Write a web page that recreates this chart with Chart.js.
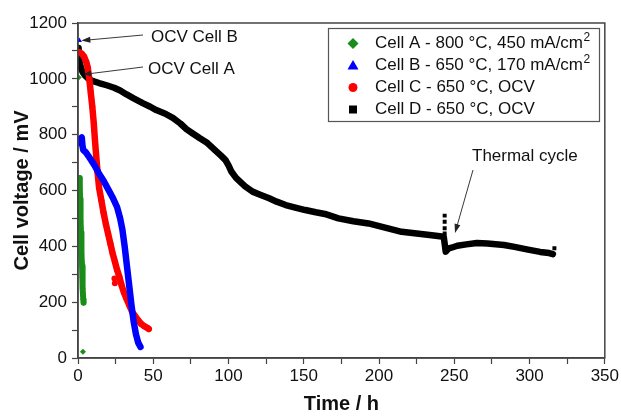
<!DOCTYPE html>
<html>
<head>
<meta charset="utf-8">
<script src="https://cdn.jsdelivr.net/npm/chart.js@4"></script>
<style>
  html, body { margin: 0; padding: 0; background: #fff; }
</style>
</head>
<body>
<canvas id="chart" width="621" height="416"></canvas>
<script>
// ------------------------------------------------------------
// Durability curves: time (h) vs cell voltage (mV)
// ------------------------------------------------------------
const xTickLabels = [0, 50, 100, 150, 200, 250, 300, 350]
const yTickLabels = [0, 200, 400, 600, 800, 1000, 1200]

// Cell A - 800 °C, 450 mA/cm2
const cellATime = [1.0, 1.2, 1.4, 1.6, 1.8, 2.0, 2.2, 2.4, 2.7, 2.9, 3.2, 3.5, 3.7]
const cellAVolt = [645, 610, 570, 530, 490, 450, 410, 370, 330, 290, 250, 210, 198]
const cellAExtraTime = [0.4, 3.3]
const cellAExtraVolt = [1005, 22]

// Cell B - 650 °C, 170 mA/cm2
const cellBTime = [0.8, 1.5, 2.5, 3.0, 3.5, 5, 8, 11, 14, 17, 20, 23, 26, 28, 29.5, 31, 32.5, 34, 35.5, 37, 38.5, 40, 41.5]
const cellBVolt = [770, 785, 790, 760, 745, 738, 715, 690, 660, 635, 605, 575, 540, 500, 460, 400, 330, 260, 190, 130, 85, 55, 40]
const cellBOcvTime = [0.9]
const cellBOcvVolt = [1137]

// Cell C - 650 °C, OCV
const cellCTime = [1, 2.5, 4, 5.5, 6.5, 7.5, 8.5, 9.5, 10.5, 11.2, 12, 13, 14, 15.5, 17, 18.5, 20, 21.5, 23, 24.5, 26, 27.5, 29, 30.5, 32, 34, 36, 38, 40, 42, 44, 46, 47]
const cellCVolt = [1095, 1090, 1080, 1060, 1040, 1000, 950, 900, 840, 785, 730, 665, 610, 565, 520, 480, 445, 410, 375, 345, 315, 290, 260, 235, 215, 190, 165, 150, 135, 122, 114, 108, 104]
const cellCExtraTime = [24.2, 24.5]
const cellCExtraVolt = [285, 268]

// Cell D - 650 °C, OCV (before and after the thermal cycle)
const cellDTime = [0.4, 0.7, 1, 2, 3, 4.6, 7, 10, 14, 19, 24, 28, 32, 37, 43, 48, 52, 58, 63, 68, 72, 76, 81, 86, 91, 95, 98, 100, 102, 105, 108, 111, 116, 121, 127, 132, 138, 145, 151, 158, 164, 173, 183, 193, 204, 215, 225, 235, 243,
  244.3, 246, 248, 252, 258, 265, 272, 283, 290, 299, 307, 313, 315.5]
const cellDVolt = [1110, 1085, 1060, 1040, 1025, 1012, 1000, 992, 985, 977, 968, 958, 945, 930, 913, 900, 888, 875, 860, 840, 820, 805, 787, 770, 745, 725, 709, 690, 667, 645, 630, 615, 596, 585, 572, 560, 548, 538, 530, 522, 516, 500, 490, 482, 467, 452, 446, 440, 434,
  381, 392, 395, 402, 407, 412, 410, 405, 398, 388, 380, 376, 372]
const cellDExtraTime = [243.6, 243.6, 243.6, 243.6, 316.5]
const cellDExtraVolt = [510, 488, 465, 446, 393]

const legendLabels = ['Cell A - 800 °C, 450 mA/cm', 'Cell B - 650 °C, 170 mA/cm', 'Cell C - 650 °C, OCV', 'Cell D - 650 °C, OCV']
const legendSup = ['2', '2', '', '']

const GREEN = '#1a8c1a'
const BLUE = '#0000ff'
const RED = '#ff0000'
const BLACK = '#000000'
const AXIS = '#444444'
const FONT = '"Liberation Sans", Arial, sans-serif'

const pts = (xs, ys) => xs.map((x, i) => ({ x, y: ys[i] }))

function curve(xs, ys, color, style, width, r) {
  return {
    data: pts(xs, ys),
    showLine: true,
    borderColor: color,
    backgroundColor: color,
    borderWidth: width,
    borderJoinStyle: 'round',
    borderCapStyle: 'round',
    pointStyle: style,
    pointRadius: r,
    pointBorderWidth: 0,
    pointHoverRadius: 0
  }
}

function markers(xs, ys, color, style, r) {
  return {
    data: pts(xs, ys),
    showLine: false,
    backgroundColor: color,
    borderColor: color,
    pointStyle: style,
    pointRadius: r,
    pointBorderWidth: 0,
    pointHoverRadius: 0
  }
}

// ------------------------------------------------------------
// Frame, boxed legend and arrows
// ------------------------------------------------------------
function arrow(ctx, x1, y1, x2, y2, head) {
  const a = Math.atan2(y2 - y1, x2 - x1)
  ctx.beginPath()
  ctx.moveTo(x1, y1)
  ctx.lineTo(x2 - Math.cos(a) * head * 0.8, y2 - Math.sin(a) * head * 0.8)
  ctx.stroke()
  ctx.beginPath()
  ctx.moveTo(x2, y2)
  ctx.lineTo(x2 - head * Math.cos(a) + 3 * Math.sin(a), y2 - head * Math.sin(a) - 3 * Math.cos(a))
  ctx.lineTo(x2 - head * Math.cos(a) - 3 * Math.sin(a), y2 - head * Math.sin(a) + 3 * Math.cos(a))
  ctx.closePath()
  ctx.fill()
}

function legendMarker(ctx, kind, x, y, color) {
  ctx.fillStyle = color
  ctx.beginPath()
  if (kind === 'diamond') {
    ctx.moveTo(x, y - 5.5); ctx.lineTo(x + 5.5, y); ctx.lineTo(x, y + 5.5); ctx.lineTo(x - 5.5, y)
  } else if (kind === 'triangle') {
    ctx.moveTo(x, y - 5.5); ctx.lineTo(x + 5.5, y + 4); ctx.lineTo(x - 5.5, y + 4)
  } else if (kind === 'circle') {
    ctx.arc(x, y, 4.5, 0, Math.PI * 2)
  } else {
    ctx.rect(x - 4, y - 4, 8, 8)
  }
  ctx.closePath()
  ctx.fill()
}

const decorations = {
  id: 'decorations',
  afterDraw(chart) {
    const { ctx, chartArea: ca, scales: { x, y } } = chart
    ctx.save()

    ctx.strokeStyle = AXIS
    ctx.lineWidth = 1.5
    ctx.strokeRect(ca.left, ca.top, ca.right - ca.left, ca.bottom - ca.top)

    // legend
    ctx.strokeStyle = '#555'
    ctx.lineWidth = 1.2
    ctx.strokeRect(328.5, 28.5, 271, 93)
    const kinds = ['diamond', 'triangle', 'circle', 'square']
    const colors = [GREEN, BLUE, RED, BLACK]
    ctx.textBaseline = 'middle'
    ctx.textAlign = 'left'
    legendLabels.forEach((label, i) => {
      const ly = 43.5 + i * 22
      legendMarker(ctx, kinds[i], 353, ly, colors[i])
      ctx.fillStyle = '#111'
      ctx.font = `17px ${FONT}`
      ctx.fillText(label, 375, ly)
      if (legendSup[i]) {
        const w = ctx.measureText(label).width
        ctx.font = `12px ${FONT}`
        ctx.fillText(legendSup[i], 375 + w + 0.5, ly - 6)
      }
    })

    // annotations
    ctx.fillStyle = '#111'
    ctx.font = `17px ${FONT}`
    ctx.fillText('OCV Cell B', 151, 37)
    ctx.fillText('OCV Cell A', 148, 69)
    ctx.fillText('Thermal cycle', 472, 156)

    ctx.strokeStyle = '#222'
    ctx.fillStyle = '#222'
    ctx.lineWidth = 0.9
    arrow(ctx, 143, 35, x.getPixelForValue(cellBOcvTime[0]) + 2, y.getPixelForValue(cellBOcvVolt[0]), 9)
    arrow(ctx, 143, 67, x.getPixelForValue(4), y.getPixelForValue(1016), 7)
    arrow(ctx, 473, 170, 455, 233, 9)

    ctx.restore()
  }
}

const tickFont = { family: FONT, size: 17 }
const titleFont = { family: FONT, size: 20, weight: 'bold' }

new Chart(document.getElementById('chart'), {
  type: 'scatter',
  data: {
    datasets: [
      markers(cellAExtraTime, cellAExtraVolt, GREEN, 'rectRot', 3),
      markers(cellBOcvTime, cellBOcvVolt, BLUE, 'triangle', 3),
      curve(cellATime, cellAVolt, GREEN, 'rectRot', 6, 3),
      curve(cellBTime, cellBVolt, BLUE, 'triangle', 6.5, 3),
      curve(cellCTime, cellCVolt, RED, 'circle', 6.5, 3),
      markers(cellCExtraTime, cellCExtraVolt, RED, 'circle', 3),
      markers(cellDExtraTime, cellDExtraVolt, BLACK, 'rect', 2.8),
      curve(cellDTime, cellDVolt, BLACK, 'rect', 6.5, 3)
    ]
  },
  options: {
    responsive: false,
    animation: false,
    layout: { padding: { left: 0, top: 23, right: 14, bottom: 0 } },
    plugins: { legend: { display: false }, tooltip: { enabled: false } },
    scales: {
      x: {
        type: 'linear',
        min: 0,
        max: 350,
        afterFit: s => { s.height = 58 },
        ticks: {
          stepSize: 25,
          autoSkip: false,
          maxRotation: 0,
          padding: 2,
          color: '#111',
          font: tickFont,
          callback: v => (xTickLabels.includes(v) ? v : '')
        },
        grid: { drawOnChartArea: false, tickLength: 6, tickColor: AXIS, tickWidth: 1.2 },
        border: { color: AXIS, width: 1.5 },
        title: { display: true, text: 'Time / h', color: '#111', font: titleFont, padding: { top: 0, bottom: 0 } }
      },
      y: {
        min: 0,
        max: 1200,
        afterFit: s => { s.width = 78 },
        ticks: {
          stepSize: 100,
          autoSkip: false,
          padding: 5,
          color: '#111',
          font: tickFont,
          callback: v => (yTickLabels.includes(v) ? v : '')
        },
        grid: { drawOnChartArea: false, tickLength: 6, tickColor: AXIS, tickWidth: 1.2 },
        border: { color: AXIS, width: 1.5 },
        title: { display: true, text: 'Cell voltage / mV', color: '#111', font: titleFont, padding: { top: 10, bottom: 0 } }
      }
    }
  },
  plugins: [decorations]
})
</script>
</body>
</html>
